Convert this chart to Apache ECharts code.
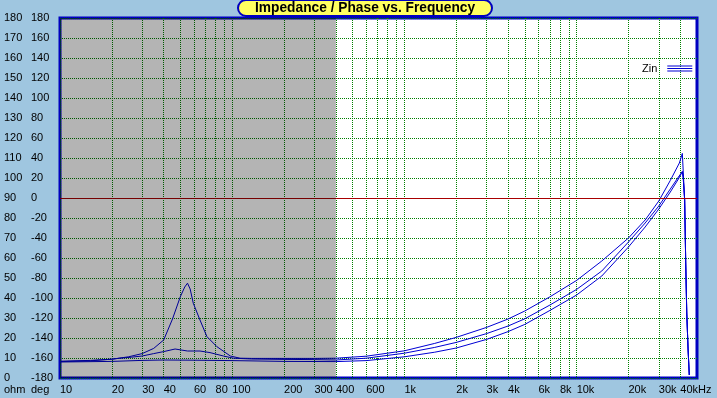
<!DOCTYPE html>
<html>
<head>
<meta charset="utf-8">
<script src="https://cdn.jsdelivr.net/npm/echarts@6/dist/echarts.min.js"></script>
<style>
  html, body { margin: 0; padding: 0; background: #9fc6e0; }
  #chart { width: 717px; height: 398px; }
</style>
</head>
<body>
<div id="chart"></div>
<script>
// frequency grid (Hz) and labelled ticks
const gridFreqs = [10, 20, 30, 40, 50, 60, 70, 80, 90,
  100, 200, 300, 400, 500, 600, 700, 800, 900,
  1000, 2000, 3000, 4000, 5000, 6000, 7000, 8000, 9000,
  10000, 20000, 30000, 40000];
const labelFreqs = [10, 20, 30, 40, 60, 80, 100, 200, 300, 400, 600,
  1000, 2000, 3000, 4000, 6000, 8000, 10000, 20000, 30000, 40000];
const shadeRange = [10, 400];

// Zin, three traces (Hz / ohm)
const freqA = [10, 15, 20, 25, 30, 35, 40, 45, 50, 53, 55, 57, 59.4, 65, 71.3, 81.4, 97.5, 111, 130, 200, 300, 400, 600,
  1000, 1500, 2000, 3000, 4000, 5000, 7000, 10000, 14000, 20000, 25000, 30000, 35000, 39500, 41100, 41600, 42400, 43000, 43600, 44400, 45100];
const zinA = [8.4, 8.8, 9.4, 10.6, 12.2, 14.8, 19, 29.5, 40.7, 45.5, 47.4, 44.5, 37.4, 29, 20.7, 15.7, 11, 9.9, 9.8, 9.8, 9.8, 9.9, 10.9,
  13.6, 17.3, 20.3, 25.3, 29.5, 33.5, 40.6, 48.8, 58.5, 70, 79, 88.5, 98.8, 107.5, 112.3, 112.3, 89, 57.5, 32.5, 14, 1.5];

const freqB = [10, 15, 20, 22.3, 26, 30, 35, 40, 46.6, 55, 65, 74.3, 88.9, 101.5, 130, 200, 300, 400, 600,
  1000, 1500, 2000, 3000, 4000, 5000, 7000, 10000, 14000, 20000, 25000, 30000, 35000, 39000, 41100, 41600, 42400, 43000, 43600, 44400, 45100];
const zinB = [8.2, 8.6, 9.4, 9.9, 10.4, 11, 12.2, 13.2, 14.5, 13.5, 13.5, 12.7, 11, 9.9, 9.5, 9.3, 9.2, 9, 9.9,
  12.4, 15.3, 17.8, 22.2, 26, 29.6, 36.5, 44.3, 53.5, 68, 77.5, 86, 94.5, 100.5, 103.2, 100, 89, 57.5, 32.5, 14, 1.5];

const freqC = [10, 20, 30, 40, 60, 100, 200, 400, 600,
  1000, 1500, 2000, 3000, 4000, 5000, 7000, 10000, 14000, 20000, 25000, 30000, 35000, 39000, 41100, 41600, 42400, 43000, 43600, 44400, 45100];
const zinC = [8.0, 8.3, 8.8, 9.0, 8.9, 8.7, 8.3, 8.2, 8.7,
  10.6, 12.9, 15, 19.3, 23.2, 26.8, 33.8, 41.5, 51, 65.5, 75.5, 84.5, 93, 99.5, 103.2, 100, 89, 57.5, 32.5, 14, 1.5];

const pairs = (xs, ys) => xs.map((x, i) => [x, ys[i]]);

const chart = echarts.init(document.getElementById('chart'));
const font = 'Liberation Sans, Arial, sans-serif';
const lineColor = '#0000d4';

const zinSeries = (xs, ys) => ({
  name: 'Zin',
  type: 'line',
  data: pairs(xs, ys),
  showSymbol: false,
  color: lineColor,
  lineStyle: { width: 1, color: lineColor },
  silent: true
});

chart.setOption({
  animation: false,
  backgroundColor: '#9fc6e0',
  textStyle: { fontFamily: font },
  title: {
    text: 'Impedance / Phase vs. Frequency',
    left: 238,
    top: 0,
    padding: [1, 17, 0, 17],
    backgroundColor: '#ffff60',
    borderColor: '#0000c0',
    borderWidth: 2,
    borderRadius: 8,
    textStyle: { fontFamily: font, fontSize: 13.75, fontWeight: 'bold', color: '#000', lineHeight: 15 }
  },
  legend: {
    data: [{ name: 'Zin', icon: 'path://M0,0H25V1H0Z M0,2.5H25V3.5H0Z M0,5H25V6H0Z' }],
    left: 637,
    top: 58,
    align: 'right',
    itemWidth: 25,
    itemHeight: 6,
    textStyle: { fontFamily: font, fontSize: 11, color: '#000', padding: [9, 5, 0, 0] }
  },
  grid: {
    left: 60, top: 18, width: 637, height: 360,
    show: true,
    backgroundColor: '#ffffff',
    borderColor: '#0000c0',
    borderWidth: 3
  },
  xAxis: {
    type: 'log',
    logBase: 10,
    min: 10,
    max: 50000,
    axisLine: { show: false },
    axisTick: { show: false, customValues: gridFreqs },
    splitLine: { show: true, lineStyle: { color: '#008000', type: [1, 1], width: 1 } },
    axisLabel: {
      customValues: labelFreqs,
      align: 'left',
      margin: 6,
      fontSize: 11,
      color: '#000',
      fontFamily: font,
      formatter: v => v >= 40000 ? '40kHz' : (v >= 1000 ? (v / 1000) + 'k' : String(v))
    }
  },
  yAxis: [
    {
      type: 'value',
      min: 0, max: 180, interval: 10,
      position: 'left',
      offset: 56,
      name: 'ohm',
      nameLocation: 'start',
      nameGap: 6,
      nameTextStyle: { align: 'left', verticalAlign: 'top', fontSize: 11, color: '#000', fontFamily: font },
      axisLine: { show: false },
      axisTick: { show: false },
      splitLine: { show: true, lineStyle: { color: '#008000', type: [1, 1], width: 1 } },
      axisLabel: { align: 'left', margin: 0, fontSize: 11, color: '#000', fontFamily: font, padding: [0, 0, 7, 0] }
    },
    {
      type: 'value',
      min: -180, max: 180, interval: 20,
      position: 'left',
      offset: 29,
      name: 'deg',
      nameLocation: 'start',
      nameGap: 6,
      nameTextStyle: { align: 'left', verticalAlign: 'top', fontSize: 11, color: '#000', fontFamily: font },
      axisLine: { show: false },
      axisTick: { show: false },
      splitLine: { show: false },
      axisLabel: { align: 'left', margin: 0, fontSize: 11, color: '#000', fontFamily: font, padding: [0, 0, 7, 0] }
    }
  ],
  series: [
    zinSeries(freqA, zinA),
    zinSeries(freqB, zinB),
    zinSeries(freqC, zinC),
    {
      name: 'marks',
      type: 'line',
      yAxisIndex: 1,
      data: [],
      silent: true,
      markLine: {
        silent: true,
        symbol: 'none',
        label: { show: false },
        lineStyle: { color: '#a80000', type: 'solid', width: 1 },
        data: [{ yAxis: 0 }]
      },
      markArea: {
        silent: true,
        z: 10,
        itemStyle: { color: 'rgba(0,0,0,0.294)' },
        data: [[{ xAxis: shadeRange[0] }, { xAxis: shadeRange[1] }]]
      }
    }
  ]
});
</script>
</body>
</html>
